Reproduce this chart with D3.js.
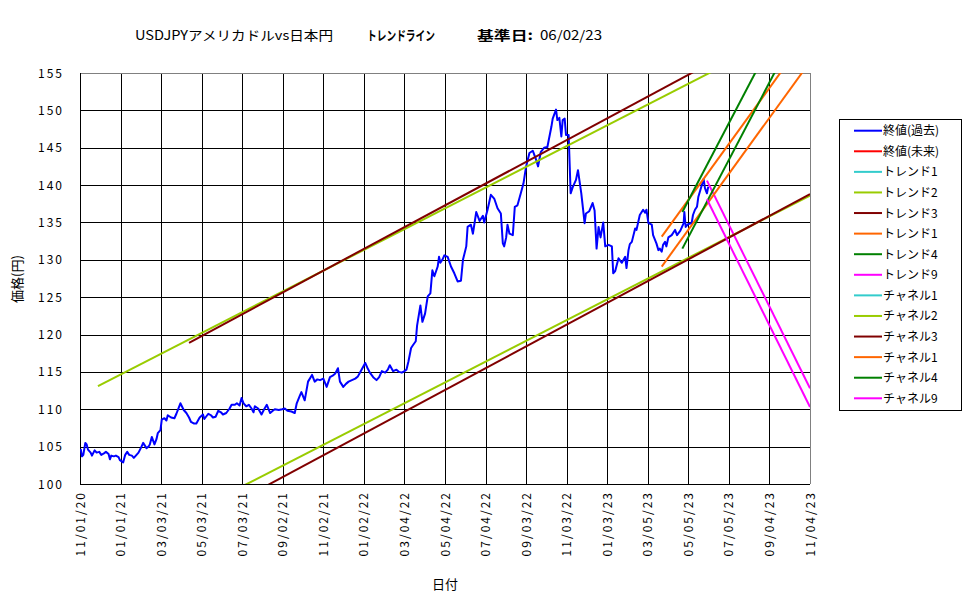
<!DOCTYPE html>
<html>
<head>
<meta charset="utf-8">
<script src="https://cdn.jsdelivr.net/npm/d3@7"></script>
<style>
  body { margin: 0; background: #fff; }
  text { font-family: "Noto Sans CJK JP", "Noto Sans", sans-serif; }
</style>
</head>
<body>
<svg id="chart" width="975" height="599"></svg>
<script>
// tick labels on the date axis (every 61 days)
const xTickLabels = ['2020-11-01', '2021-01-01', '2021-03-03', '2021-05-03', '2021-07-03', '2021-09-02',
  '2021-11-02', '2022-01-02', '2022-03-04', '2022-05-04', '2022-07-04', '2022-09-03', '2022-11-03',
  '2023-01-03', '2023-03-05', '2023-05-05', '2023-07-05', '2023-09-04', '2023-11-04'];
const yTicks = [100, 105, 110, 115, 120, 125, 130, 135, 140, 145, 150, 155];

// 終値(過去)
const closePast = [
  ['2020-11-02', 104.7], ['2020-11-04', 103.7], ['2020-11-06', 103.9], ['2020-11-09', 105.5], ['2020-11-11', 105.3],
  ['2020-11-13', 104.6], ['2020-11-17', 104.2], ['2020-11-19', 103.8], ['2020-11-23', 104.5], ['2020-11-26', 104.2],
  ['2020-11-30', 104.3], ['2020-12-03', 103.9], ['2020-12-07', 104.1], ['2020-12-10', 104.3], ['2020-12-14', 104.0],
  ['2020-12-16', 103.3], ['2020-12-18', 103.8], ['2020-12-22', 103.7], ['2020-12-25', 103.8], ['2020-12-29', 103.6],
  ['2020-12-31', 103.2], ['2021-01-05', 102.9], ['2021-01-08', 103.9], ['2021-01-11', 104.3], ['2021-01-14', 103.9],
  ['2021-01-18', 103.8], ['2021-01-21', 103.5], ['2021-01-25', 103.9], ['2021-01-28', 104.2], ['2021-02-01', 104.9],
  ['2021-02-04', 105.5], ['2021-02-09', 104.8], ['2021-02-12', 105.0], ['2021-02-14', 105.3], ['2021-02-17', 106.3],
  ['2021-02-21', 105.3], ['2021-02-24', 106.0], ['2021-02-26', 106.8], ['2021-03-02', 107.2], ['2021-03-04', 108.6],
  ['2021-03-08', 108.8], ['2021-03-11', 108.5], ['2021-03-13', 109.2], ['2021-03-18', 108.9], ['2021-03-23', 108.8],
  ['2021-03-26', 109.4], ['2021-03-29', 110.1], ['2021-04-01', 110.8], ['2021-04-06', 109.9], ['2021-04-10', 109.5],
  ['2021-04-14', 108.9], ['2021-04-17', 108.3], ['2021-04-21', 108.1], ['2021-04-25', 108.1], ['2021-04-30', 108.9],
  ['2021-05-05', 109.3], ['2021-05-07', 108.7], ['2021-05-13', 109.4], ['2021-05-17', 109.2], ['2021-05-20', 108.9],
  ['2021-05-24', 109.0], ['2021-05-28', 109.8], ['2021-06-01', 109.6], ['2021-06-04', 109.3], ['2021-06-09', 109.5],
  ['2021-06-14', 110.1], ['2021-06-17', 110.6], ['2021-06-22', 110.6], ['2021-06-25', 110.8], ['2021-06-29', 110.5],
  ['2021-07-02', 111.5], ['2021-07-05', 110.8], ['2021-07-09', 110.4], ['2021-07-13', 110.6], ['2021-07-17', 110.1],
  ['2021-07-20', 109.6], ['2021-07-22', 110.4], ['2021-07-27', 110.1], ['2021-08-01', 109.3], ['2021-08-05', 110.0],
  ['2021-08-09', 110.6], ['2021-08-14', 109.5], ['2021-08-18', 109.8], ['2021-08-21', 110.0], ['2021-08-27', 109.9],
  ['2021-09-01', 110.0], ['2021-09-05', 110.1], ['2021-09-09', 109.8], ['2021-09-15', 109.7], ['2021-09-20', 109.5],
  ['2021-09-23', 110.8], ['2021-09-28', 111.9], ['2021-09-30', 112.3], ['2021-10-05', 111.2], ['2021-10-10', 113.7],
  ['2021-10-16', 114.6], ['2021-10-20', 113.7], ['2021-10-24', 114.0], ['2021-10-28', 113.9], ['2021-11-02', 114.1],
  ['2021-11-07', 113.0], ['2021-11-12', 114.3], ['2021-11-16', 114.5], ['2021-11-20', 114.8], ['2021-11-24', 115.5],
  ['2021-11-27', 113.7], ['2021-12-02', 113.0], ['2021-12-06', 113.4], ['2021-12-10', 113.7], ['2021-12-15', 113.9],
  ['2021-12-20', 114.1], ['2021-12-24', 114.4], ['2021-12-27', 114.9], ['2022-01-04', 116.2], ['2022-01-07', 115.6],
  ['2022-01-11', 114.9], ['2022-01-16', 114.3], ['2022-01-21', 113.9], ['2022-01-25', 114.3], ['2022-01-29', 115.1],
  ['2022-02-03', 114.9], ['2022-02-07', 115.3], ['2022-02-10', 115.9], ['2022-02-15', 115.1], ['2022-02-20', 115.3],
  ['2022-02-24', 115.0], ['2022-02-28', 114.9], ['2022-03-04', 115.1], ['2022-03-07', 115.3], ['2022-03-10', 116.4],
  ['2022-03-14', 118.2], ['2022-03-17', 118.6], ['2022-03-21', 119.1], ['2022-03-23', 121.2], ['2022-03-28', 123.9],
  ['2022-03-31', 121.7], ['2022-04-04', 122.8], ['2022-04-08', 125.1], ['2022-04-12', 125.5], ['2022-04-15', 128.6],
  ['2022-04-18', 127.8], ['2022-04-23', 129.1], ['2022-04-25', 130.4], ['2022-04-27', 129.6], ['2022-04-30', 130.0],
  ['2022-05-03', 130.6], ['2022-05-08', 130.4], ['2022-05-13', 129.1], ['2022-05-18', 128.2], ['2022-05-23', 127.1],
  ['2022-05-28', 127.2], ['2022-05-31', 130.0], ['2022-06-05', 131.8], ['2022-06-07', 134.4], ['2022-06-12', 134.7],
  ['2022-06-15', 133.5], ['2022-06-20', 136.4], ['2022-06-25', 135.2], ['2022-06-30', 135.9], ['2022-07-02', 135.0],
  ['2022-07-07', 136.7], ['2022-07-12', 138.7], ['2022-07-17', 138.2], ['2022-07-22', 136.9], ['2022-07-27', 136.2],
  ['2022-07-30', 132.2], ['2022-08-01', 131.8], ['2022-08-04', 133.0], ['2022-08-06', 134.7], ['2022-08-09', 133.5],
  ['2022-08-14', 133.3], ['2022-08-17', 137.1], ['2022-08-21', 137.3], ['2022-08-26', 138.9], ['2022-08-30', 140.2],
  ['2022-09-03', 142.5], ['2022-09-08', 144.3], ['2022-09-13', 144.6], ['2022-09-18', 143.4], ['2022-09-21', 142.5],
  ['2022-09-25', 144.4], ['2022-09-30', 145.0], ['2022-10-05', 145.1], ['2022-10-11', 147.8], ['2022-10-13', 148.9],
  ['2022-10-18', 150.1], ['2022-10-20', 148.7], ['2022-10-23', 149.0], ['2022-10-26', 146.5], ['2022-10-28', 148.7],
  ['2022-10-31', 148.9], ['2022-11-02', 146.7], ['2022-11-06', 146.7], ['2022-11-09', 138.9], ['2022-11-12', 139.7],
  ['2022-11-17', 140.7], ['2022-11-20', 142.0], ['2022-11-25', 138.9], ['2022-11-30', 134.9], ['2022-12-02', 136.2],
  ['2022-12-07', 136.5], ['2022-12-12', 137.6], ['2022-12-15', 136.6], ['2022-12-18', 131.5], ['2022-12-21', 134.4],
  ['2022-12-24', 133.0], ['2022-12-28', 135.0], ['2022-12-31', 131.8], ['2023-01-05', 132.0], ['2023-01-10', 131.8],
  ['2023-01-12', 128.2], ['2023-01-15', 128.5], ['2023-01-20', 130.2], ['2023-01-25', 129.6], ['2023-01-30', 130.4],
  ['2023-02-01', 128.9], ['2023-02-04', 131.3], ['2023-02-06', 132.1], ['2023-02-09', 132.4], ['2023-02-14', 134.2],
  ['2023-02-16', 134.0], ['2023-02-21', 136.0], ['2023-02-26', 136.7], ['2023-03-01', 136.3], ['2023-03-03', 136.7],
  ['2023-03-06', 134.9], ['2023-03-11', 134.7], ['2023-03-13', 133.3], ['2023-03-18', 132.2], ['2023-03-21', 131.3],
  ['2023-03-23', 131.5], ['2023-03-26', 131.1], ['2023-03-28', 132.0], ['2023-03-31', 132.4], ['2023-04-02', 131.8],
  ['2023-04-05', 133.0], ['2023-04-10', 133.3], ['2023-04-15', 134.0], ['2023-04-18', 133.3], ['2023-04-23', 133.9],
  ['2023-04-28', 134.9], ['2023-04-29', 136.4], ['2023-05-01', 134.4], ['2023-05-05', 134.8], ['2023-05-10', 134.9],
  ['2023-05-12', 136.0], ['2023-05-15', 136.7], ['2023-05-18', 137.1], ['2023-05-20', 138.4], ['2023-05-24', 139.6],
  ['2023-05-28', 140.8], ['2023-05-30', 139.6], ['2023-06-02', 138.9], ['2023-06-04', 139.8]
];
const closeFuture = [];

// trend / channel lines: start and end points
const trendLines = [
  { name: 'トレンド2', color: '#99cc00', pts: [['2020-11-28', 113.1], ['2023-11-04', 161.9]] },
  { name: 'トレンド3', color: '#800000', pts: [['2021-04-14', 118.9], ['2023-11-04', 163.5]] },
  { name: 'トレンド1', color: '#ff6600', pts: [['2023-03-26', 133.1], ['2023-11-04', 160.5]] },
  { name: 'トレンド4', color: '#008000', pts: [['2023-04-26', 136.4], ['2023-11-04', 169.0]] },
  { name: 'トレンド9', color: '#ff00ff', pts: [['2023-06-02', 140.6], ['2023-11-04', 112.8]] },
  { name: 'チャネル2', color: '#99cc00', pts: [['2020-11-28', 89.8], ['2023-11-04', 138.6]] },
  { name: 'チャネル3', color: '#800000', pts: [['2021-04-14', 94.2], ['2023-11-04', 138.8]] },
  { name: 'チャネル1', color: '#ff6600', pts: [['2023-03-26', 129.1], ['2023-11-04', 156.5]] },
  { name: 'チャネル4', color: '#008000', pts: [['2023-04-26', 131.5], ['2023-11-04', 164.1]] },
  { name: 'チャネル9', color: '#ff00ff', pts: [['2023-06-02', 138.1], ['2023-11-04', 110.3]] }
];

const legendNames = ['終値(過去)', '終値(未来)', 'トレンド1', 'トレンド2', 'トレンド3', 'トレンド1', 'トレンド4',
  'トレンド9', 'チャネル1', 'チャネル2', 'チャネル3', 'チャネル1', 'チャネル4', 'チャネル9'];
const legendColors = ['#0000ff', '#ff0000', '#33cccc', '#99cc00', '#800000', '#ff6600', '#008000',
  '#ff00ff', '#33cccc', '#99cc00', '#800000', '#ff6600', '#008000', '#ff00ff'];

const parse = d3.timeParse('%Y-%m-%d');
const fmt = d3.timeFormat('%m/%d/%y');

const svg = d3.select('#chart');
const plot = { left: 80, top: 73, right: 810, bottom: 484 };

const x = d3.scaleTime()
  .domain([parse(xTickLabels[0]), parse(xTickLabels[xTickLabels.length - 1])])
  .range([plot.left, plot.right]);
const y = d3.scaleLinear().domain([100, 155]).range([plot.bottom, plot.top]);

svg.append('rect').attr('width', 975).attr('height', 599).attr('fill', '#fff');

svg.append('defs').append('clipPath').attr('id', 'plotclip')
  .append('rect')
  .attr('x', plot.left).attr('y', plot.top)
  .attr('width', plot.right - plot.left).attr('height', plot.bottom - plot.top);

// grid
const grid = svg.append('g').attr('shape-rendering', 'crispEdges');
grid.selectAll('.hg').data(yTicks).enter().append('line')
  .attr('x1', plot.left).attr('x2', plot.right)
  .attr('y1', d => Math.round(y(d)) + 0.5).attr('y2', d => Math.round(y(d)) + 0.5)
  .attr('stroke', '#000');
grid.selectAll('.vg').data(xTickLabels).enter().append('line')
  .attr('x1', d => Math.round(x(parse(d))) + 0.5).attr('x2', d => Math.round(x(parse(d))) + 0.5)
  .attr('y1', plot.top).attr('y2', plot.bottom)
  .attr('stroke', '#000');
// top and right border are grey
grid.append('line').attr('x1', plot.left).attr('x2', plot.right + 1)
  .attr('y1', plot.top + 0.5).attr('y2', plot.top + 0.5).attr('stroke', '#808080');
grid.append('line').attr('x1', plot.right + 0.5).attr('x2', plot.right + 0.5)
  .attr('y1', plot.top).attr('y2', plot.bottom).attr('stroke', '#808080');
grid.append('line').attr('x1', plot.left + 0.5).attr('x2', plot.left + 0.5)
  .attr('y1', plot.top).attr('y2', plot.bottom + 1).attr('stroke', '#000');

// series
const lines = svg.append('g').attr('clip-path', 'url(#plotclip)');
const line = d3.line().x(d => x(parse(d[0]))).y(d => y(d[1]));

lines.append('path').datum(closePast)
  .attr('d', line).attr('fill', 'none').attr('stroke', '#0000ff').attr('stroke-width', 2)
  .attr('stroke-linejoin', 'round');
if (closeFuture.length) {
  lines.append('path').datum(closeFuture)
    .attr('d', line).attr('fill', 'none').attr('stroke', '#ff0000').attr('stroke-width', 2);
}
lines.selectAll('.trend').data(trendLines).enter().append('path')
  .attr('d', d => line(d.pts)).attr('fill', 'none')
  .attr('stroke', d => d.color).attr('stroke-width', 2);

// axes labels
const axisFont = 12;
svg.append('g').selectAll('text').data(yTicks).enter().append('text')
  .attr('x', 64).attr('y', d => y(d) + 4.5)
  .attr('text-anchor', 'end').attr('font-size', axisFont).attr('letter-spacing', 2)
  .text(d => d);

svg.append('g').selectAll('text').data(xTickLabels).enter().append('text')
  .attr('transform', d => `translate(${x(parse(d)) + 4.5},491) rotate(-90)`)
  .attr('text-anchor', 'end').attr('font-size', axisFont).attr('letter-spacing', 2)
  .text(d => fmt(parse(d)));

svg.append('text')
  .attr('transform', 'translate(22,279) rotate(-90)')
  .attr('text-anchor', 'middle').attr('font-size', 13)
  .text('価格(円)');

svg.append('text')
  .attr('x', 445).attr('y', 589).attr('text-anchor', 'middle').attr('font-size', 13)
  .text('日付');

// title
const title = svg.append('g').attr('font-size', 13);
title.append('text').attr('x', 135).attr('y', 40)
  .attr('textLength', 198).attr('lengthAdjust', 'spacingAndGlyphs').text('USDJPYアメリカドルvs日本円');
title.append('text').attr('x', 367).attr('y', 40).attr('font-weight', 'bold')
  .attr('textLength', 68).attr('lengthAdjust', 'spacingAndGlyphs').text('トレンドライン');
title.append('text').attr('x', 477).attr('y', 40).attr('font-weight', 'bold')
  .attr('textLength', 56).attr('lengthAdjust', 'spacingAndGlyphs').text('基準日:');
title.append('text').attr('x', 540).attr('y', 40)
  .attr('textLength', 62).attr('lengthAdjust', 'spacingAndGlyphs').text('06/02/23');

// legend
const legend = svg.append('g');
legend.append('rect')
  .attr('x', 839.5).attr('y', 119.5).attr('width', 122).attr('height', 291)
  .attr('fill', '#fff').attr('stroke', '#000');
const rowY = d3.scaleLinear().domain([0, legendNames.length - 1]).range([130.7, 398.3]);
const rows = legend.selectAll('.row').data(legendNames).enter().append('g')
  .attr('transform', (d, i) => `translate(0,${rowY(i)})`);
rows.append('line').attr('x1', 854).attr('x2', 882).attr('y1', 0).attr('y2', 0)
  .attr('stroke', (d, i) => legendColors[i]).attr('stroke-width', 2);
rows.append('text').attr('x', 883).attr('y', 4.5).attr('font-size', 12).text(d => d);
</script>
</body>
</html>
